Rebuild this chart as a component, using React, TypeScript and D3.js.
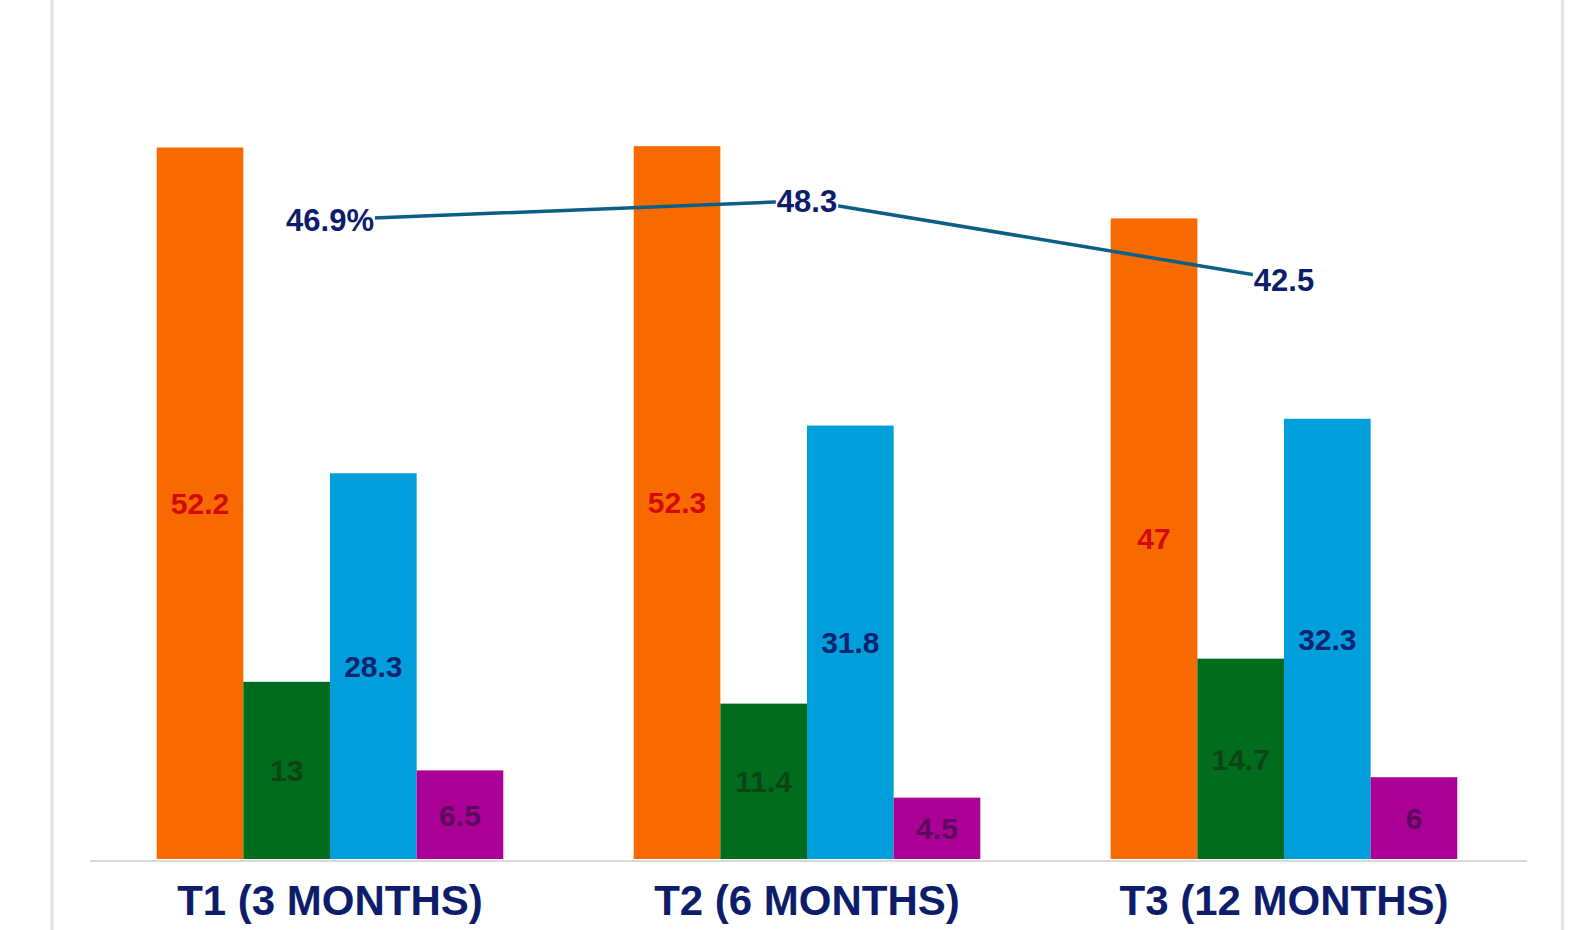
import React from "react";
import * as d3 from "d3";

const categories = ["T1 (3 MONTHS)", "T2 (6 MONTHS)", "T3 (12 MONTHS)"];
const seriesNames = ["Orange", "Green", "Blue", "Purple"];
const orangeValues = [52.2, 52.3, 47];
const greenValues = [13, 11.4, 14.7];
const blueValues = [28.3, 31.8, 32.3];
const purpleValues = [6.5, 4.5, 6];
const lineValues = [46.9, 48.3, 42.5];
const lineLabels = ["46.9%", "48.3", "42.5"];

const barColors = ["#f66a00", "#016c1e", "#009edb", "#aa0096"];
const labelColors = ["#d40a0a", "#0b4515", "#0b2470", "#5a0a5c"];
const navy = "#0d1d6b";
const lineColor = "#0b5f84";

const W = 1573;
const H = 930;
const BASE = 859;

function textWidth(s: string, size: number) {
  const w: Record<string, number> = {
    "0": 0.556, "1": 0.556, "2": 0.556, "3": 0.556, "4": 0.556, "5": 0.556,
    "6": 0.556, "7": 0.556, "8": 0.556, "9": 0.556, ".": 0.278, "%": 0.889,
  };
  let t = 0;
  for (const c of s) t += w[c] ?? 0.6;
  return t * size;
}

export default function App() {
  const series = [orangeValues, greenValues, blueValues, purpleValues];
  const x = d3
    .scaleBand<string>()
    .domain(categories)
    .range([91.5, 1522.5])
    .paddingInner(0.2734)
    .paddingOuter(0.1367);
  const xi = d3
    .scaleBand<string>()
    .domain(seriesNames)
    .range([0, x.bandwidth()])
    .padding(0);
  const y = d3.scaleLinear().domain([0, 63]).range([BASE, BASE - 63 * 13.63]);

  const linePts: [number, number][] = categories.map((c, i) => [
    (x(c) as number) + x.bandwidth() / 2,
    y(lineValues[i]),
  ]);
  const lineGen = d3.line();

  return (
    <svg
      width={W}
      height={H}
      style={{ position: "absolute", left: 0, top: 0, background: "#fff" }}
      fontFamily="'Liberation Sans', Arial, Helvetica, sans-serif"
    >
      <rect x={0} y={0} width={W} height={H} fill="#fff" />
      <rect x={50.5} y={0} width={3} height={H} fill="#e4e4e4" />
      <rect x={1561} y={0} width={3} height={H} fill="#e4e4e4" />

      {categories.map((c, ci) =>
        series.map((vals, si) => {
          const bx = (x(c) as number) + (xi(seriesNames[si]) as number);
          const by = y(vals[ci]);
          return (
            <g key={`${ci}-${si}`}>
              <rect
                x={bx}
                y={by}
                width={xi.bandwidth()}
                height={BASE - by}
                fill={barColors[si]}
              />
              <text
                x={bx + xi.bandwidth() / 2}
                y={(by + BASE) / 2}
                dy="0.36em"
                textAnchor="middle"
                fontSize={30}
                fontWeight="bold"
                fill={labelColors[si]}
              >
                {vals[ci]}
              </text>
            </g>
          );
        })
      )}

      <line x1={90} x2={1527} y1={861} y2={861} stroke="#d9d9d9" strokeWidth={2} />

      <path
        d={lineGen(linePts) || ""}
        fill="none"
        stroke={lineColor}
        strokeWidth={3.5}
      />
      {linePts.map(([px, py], i) => {
        const tw = textWidth(lineLabels[i], 31);
        return (
          <g key={`ll-${i}`}>
            <rect x={px - tw / 2 - 1} y={py - 13} width={tw + 2} height={26} fill="#fff" />
            <text
              x={px}
              y={py}
              dy="0.36em"
              textAnchor="middle"
              fontSize={31}
              fontWeight="bold"
              fill={navy}
            >
              {lineLabels[i]}
            </text>
          </g>
        );
      })}

      {categories.map((c) => (
        <text
          key={c}
          x={(x(c) as number) + x.bandwidth() / 2}
          y={915}
          textAnchor="middle"
          fontSize={42}
          fontWeight="bold"
          fill={navy}
        >
          {c}
        </text>
      ))}
    </svg>
  );
}
